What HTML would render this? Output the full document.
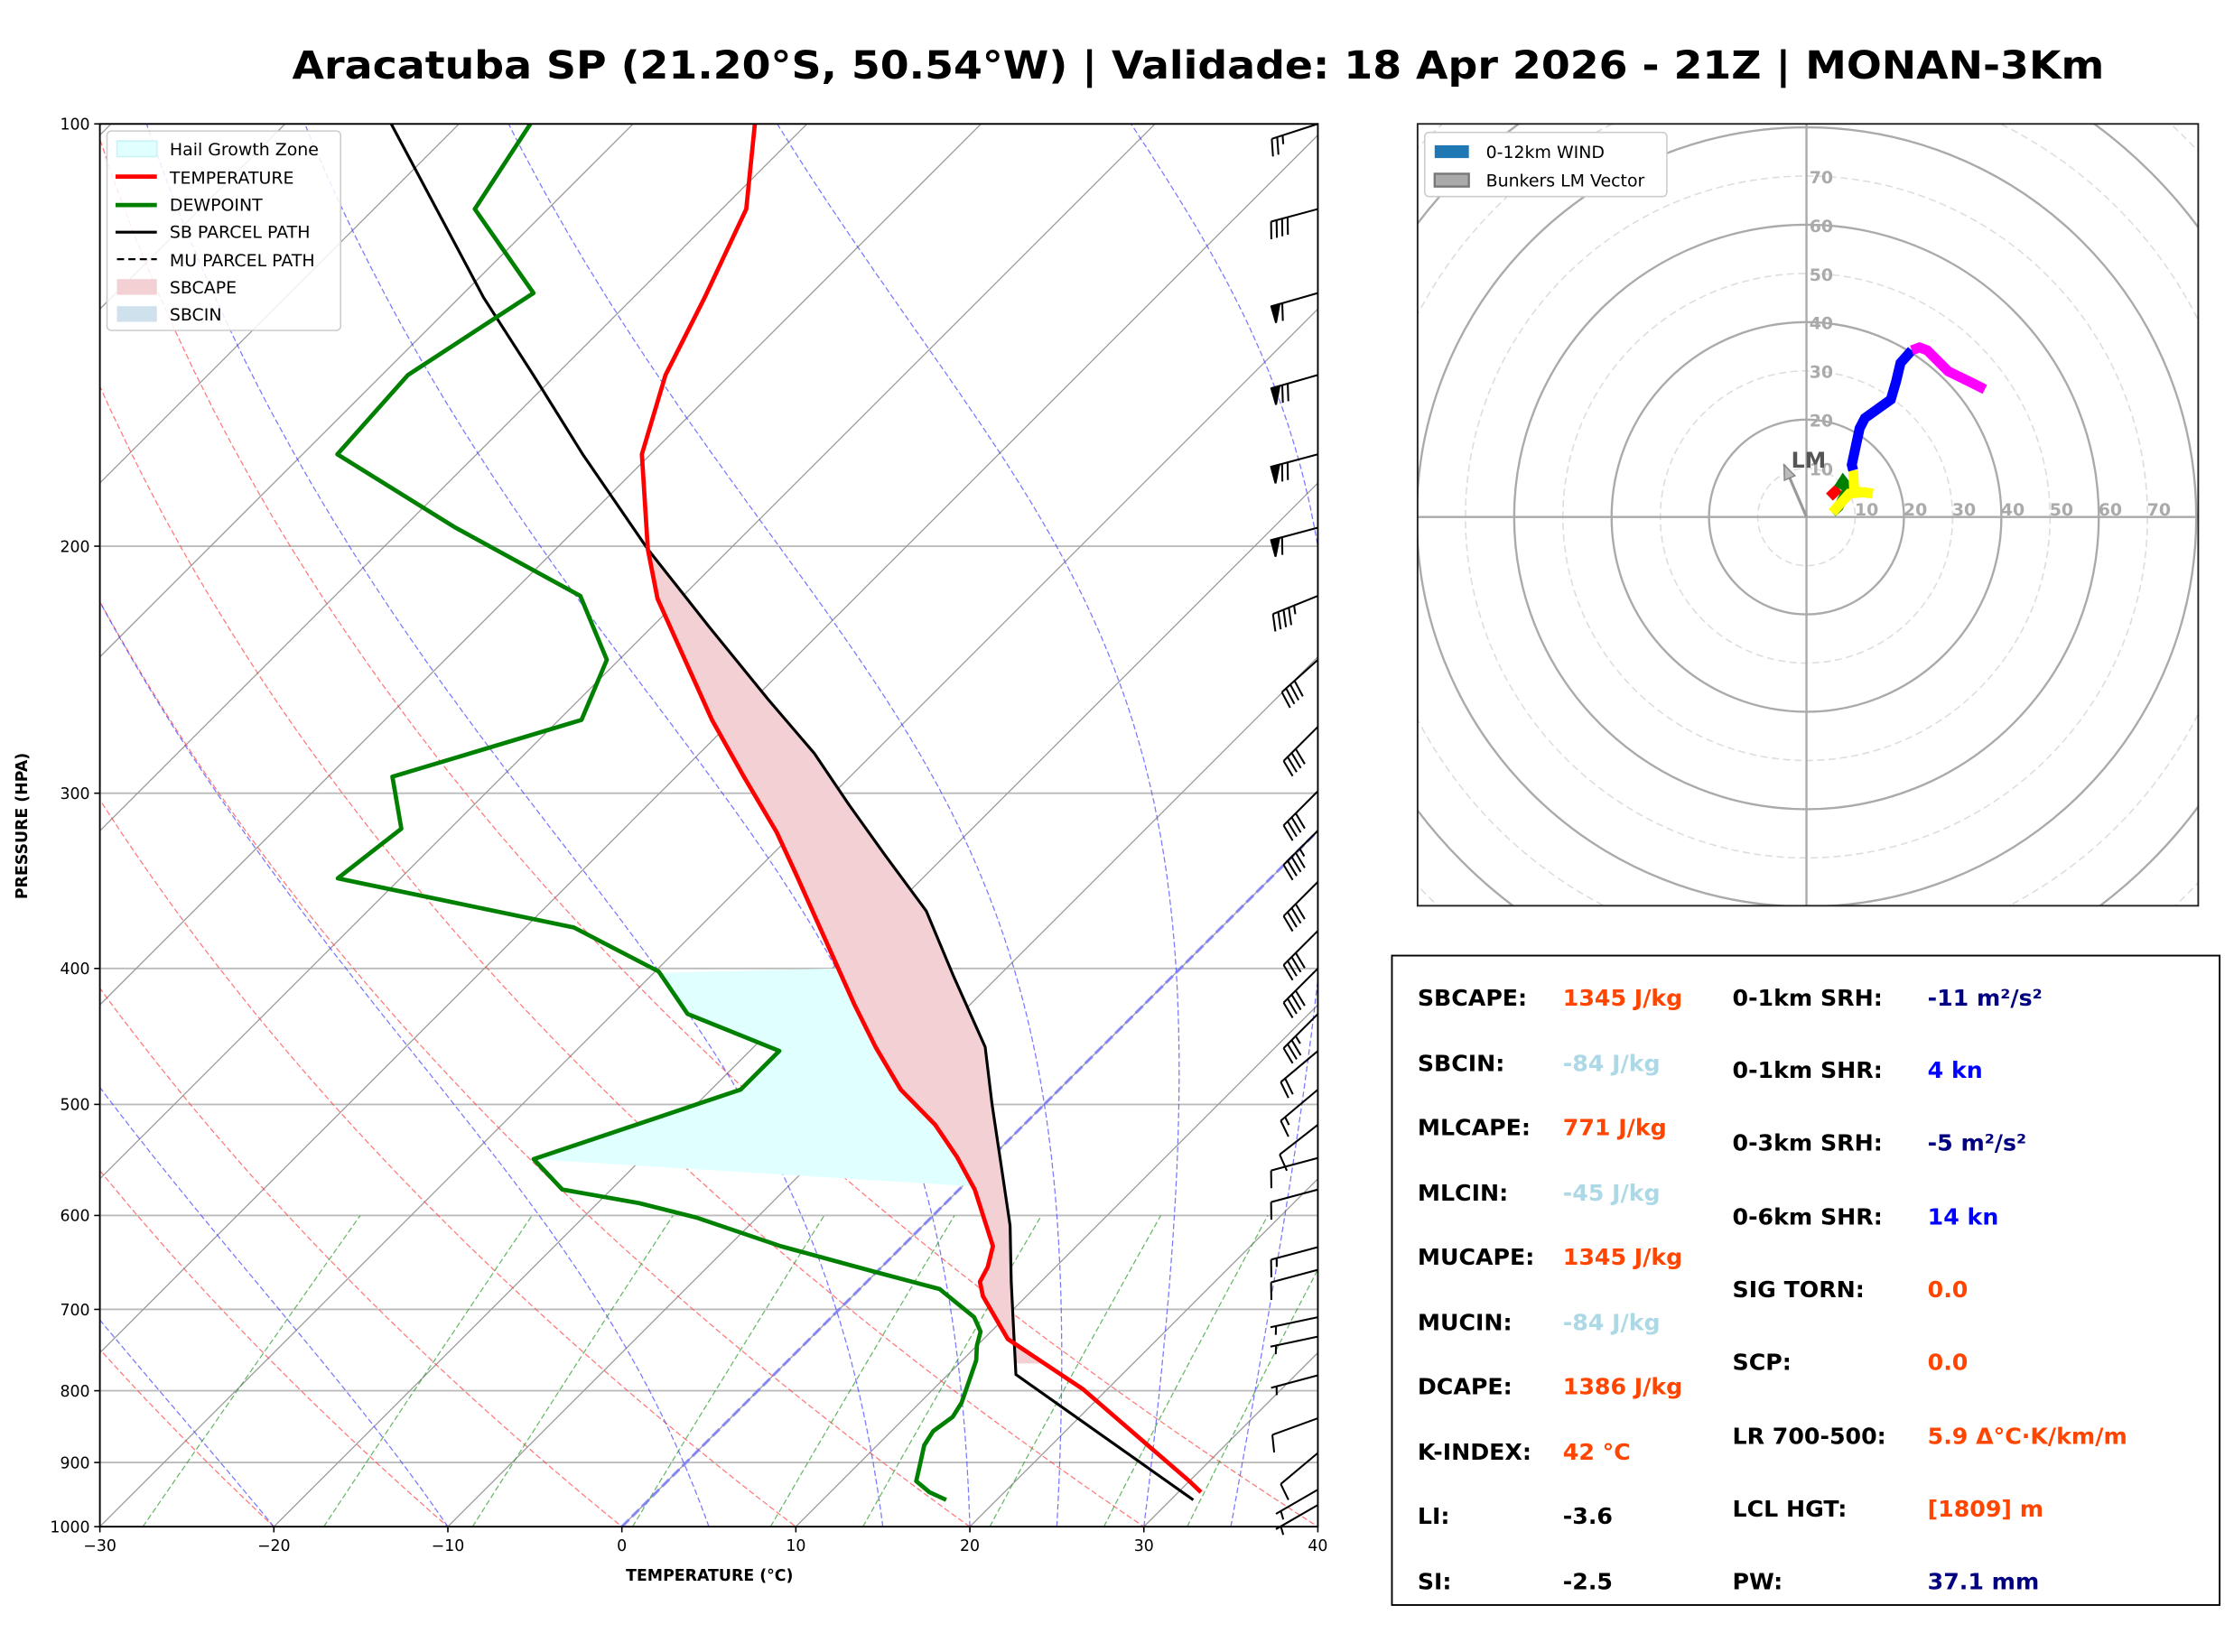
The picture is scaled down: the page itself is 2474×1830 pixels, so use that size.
<!DOCTYPE html>
<html><head><meta charset="utf-8"><style>
html,body{margin:0;padding:0;background:#fff;}
svg{display:block;font-family:"DejaVu Sans","Liberation Sans",sans-serif;}
</style></head><body>
<svg id="fig" width="2474" height="1830" viewBox="0 0 1568 1160" xmlns="http://www.w3.org/2000/svg">
<defs>
<clipPath id="skclip"><rect x="70" y="87" width="855" height="985"/></clipPath>
<clipPath id="hclip"><rect x="995" y="87" width="548" height="549"/></clipPath>
</defs>
<rect width="1568" height="1160" fill="#fff"/>
<text x="841" y="55" text-anchor="middle" font-size="27" font-weight="bold" textLength="1272" lengthAdjust="spacingAndGlyphs">Aracatuba SP (21.20°S, 50.54°W) | Validade: 18 Apr 2026 - 21Z | MONAN-3Km</text>
<g id="skew">
<g id="bg" clip-path="url(#skclip)"></g>
<g id="fills" clip-path="url(#skclip)"></g>
<g id="prof" clip-path="url(#skclip)"></g>
<rect x="70" y="87" width="855" height="985" fill="none" stroke="#000" stroke-width="1.2"/>
<g id="ticks"></g>
<g id="barbs"></g>
<text transform="translate(19,580) rotate(-90)" text-anchor="middle" font-size="11" font-weight="bold">PRESSURE (HPA)</text>
<text x="498" y="1110" text-anchor="middle" font-size="11" font-weight="bold">TEMPERATURE (°C)</text>
<g>
<rect x="75" y="92" width="164" height="140" rx="3" fill="#fff" fill-opacity="0.85" stroke="#ccc"/>
<rect x="82" y="99" width="28" height="11" fill="#e0ffff" stroke="#c8f4f4"/><text x="119" y="109" font-size="12">Hail Growth Zone</text>
<line x1="81" y1="124" x2="110" y2="124" stroke="red" stroke-width="3"/><text x="119" y="129" font-size="12">TEMPERATURE</text>
<line x1="81" y1="144" x2="110" y2="144" stroke="green" stroke-width="3"/><text x="119" y="148" font-size="12">DEWPOINT</text>
<line x1="81" y1="163" x2="110" y2="163" stroke="#000" stroke-width="2"/><text x="119" y="167" font-size="12">SB PARCEL PATH</text>
<line x1="82" y1="182" x2="110" y2="182" stroke="#000" stroke-width="1.5" stroke-dasharray="5,3"/><text x="119" y="187" font-size="12">MU PARCEL PATH</text>
<rect x="82" y="196" width="28" height="11" fill="#f2d0d3"/><text x="119" y="206" font-size="12">SBCAPE</text>
<rect x="82" y="215" width="28" height="11" fill="#d0e1ee"/><text x="119" y="225" font-size="12">SBCIN</text>
</g>
</g>
<g id="hodo">
<g id="hbg" clip-path="url(#hclip)"></g>
<g id="hlines" clip-path="url(#hclip)"></g>
<rect x="995" y="87" width="548" height="549" fill="none" stroke="#222" stroke-width="1.2"/>
<g>
<rect x="1000" y="93" width="170" height="45" rx="3" fill="#fff" stroke="#ccc"/>
<rect x="1007" y="102" width="24" height="9" fill="#1f77b4"/><text x="1043" y="111" font-size="12">0-12km WIND</text>
<rect x="1007" y="122" width="24" height="9" fill="#aaa" stroke="#777" stroke-width="1.5"/><text x="1043" y="131" font-size="12">Bunkers LM Vector</text>
</g>
</g>
<g font-size="16" font-weight="bold">
<rect x="977" y="671" width="581" height="456" fill="#fff" stroke="#000" stroke-width="1.2"/>
<g id="stats"></g>
</g>
</svg>
<script>
// ===== data =====
const tempP=[945,928,798,735,685,669,653,631,575,545,517,488,455,424,373,344,320,292,266,242,218,201,172,151,133,115,100];
const tempT=[31.3,30.0,18.6,11.4,7.5,6.5,6.1,5.2,0.9,-2.0,-5.1,-9.1,-13.0,-16.7,-23.2,-27.3,-31.0,-36.1,-41.2,-46.0,-51.3,-54.7,-60.5,-63.7,-65.9,-68.6,-73.0];
const dewP=[957,945,928,901,875,855,835,816,788,761,743,726,709,677,657,631,602,588,575,547,488,458,431,402,374,345,318,292,266,241,217,194,172,151,132,115,100];
const dewT=[17.1,15.7,14.3,13.5,12.7,12.4,12.7,12.4,11.6,10.8,10.0,9.4,8.2,4.6,-0.4,-7.0,-13.5,-17.6,-22.8,-26.2,-18.3,-18.3,-25.7,-29.8,-37.2,-53.6,-52.8,-56.3,-48.7,-50.7,-55.9,-67.0,-78.0,-78.5,-76.0,-84.2,-85.9];
const parcelP=[957,779,720,669,610,555,500,455,405,364,332,306,281,257,228,201,172,151,133,115,100];
const parcelT=[31.3,13.9,11.0,8.3,5.0,1.2,-3.0,-6.7,-12.6,-17.9,-23.5,-28.4,-33.4,-39.2,-46.8,-54.7,-63.9,-71.3,-78.6,-86.4,-93.9];
const barbP=[100,115,132,151,172,194,217,241,269,299,319,347,376,400,431,458,488,517,546,575,632,656,709,732,780,837,886,941,965];
const barbDir=[252,255,254,254,255,255,248,228,225,225,225,225,225,225,225,230,230,232,255,255,255,255,258,258,255,250,230,240,240];
const barbSpd=[25,40,60,70,70,60,45,40,40,40,45,40,40,40,35,20,15,10,10,10,15,10,5,5,5,10,10,5,5];
const xTicks=[-30,-20,-10,0,10,20,30,40];
const yTicks=[100,200,300,400,500,600,700,800,900,1000];
const hodoRed=[[4.7,4.1],[6.6,5.9]];
const hodoGreen=[[6.6,5.9],[7.5,7.3],[8.6,5.9],[6.6,2.1],[5.3,0.9]];
const hodoYellow=[[5.3,0.9],[8.8,4.8],[12,5.1],[13.6,4.8],[9.8,5.3],[9.6,9.6]];
const hodoBlue=[[9.6,9.6],[9.3,10.7],[10.9,18.2],[12,20.3],[17.3,24.1],[18.4,27.8],[19.3,31.6],[21.6,34.2]];
const hodoMagenta=[[21.6,34.2],[23.2,34.8],[24.8,34.2],[29.1,29.9],[33.4,27.8],[36.6,26.2]];
const bunkersLM=[-4.6,10.7];
const statLeftLabels=["SBCAPE:","SBCIN:","MLCAPE:","MLCIN:","MUCAPE:","MUCIN:","DCAPE:","K-INDEX:","LI:","SI:"];
const statLeftValues=["1345 J/kg","-84 J/kg","771 J/kg","-45 J/kg","1345 J/kg","-84 J/kg","1386 J/kg","42 °C","-3.6","-2.5"];
const statLeftColors=["#ff4500","#add8e6","#ff4500","#add8e6","#ff4500","#add8e6","#ff4500","#ff4500","#000","#000"];
const statRightLabels=["0-1km SRH:","0-1km SHR:","0-3km SRH:","0-6km SHR:","SIG TORN:","SCP:","LR 700-500:","LCL HGT:","PW:"];
const statRightValues=["-11 m²/s²","4 kn","-5 m²/s²","14 kn","0.0","0.0","5.9 Δ°C·K/km/m","[1809] m","37.1 mm"];
const statRightColors=["#000080","#0000ff","#000080","#0000ff","#ff4500","#ff4500","#ff4500","#ff4500","#000080"];

// ===== helpers =====
const NS="http://www.w3.org/2000/svg";
function mk(parent,tag,attrs){const e=document.createElementNS(NS,tag);for(const k in attrs)e.setAttribute(k,attrs[k]);parent.appendChild(e);return e;}
function Y(p){return 87+985*Math.log10(p/100);}
function X(T,p){return 70+(T+30)*(855/70)+(1072-Y(p));}
function pts(Ps,Ts){return Ps.map((p,i)=>X(Ts[i],p).toFixed(2)+","+Y(p).toFixed(2)).join(" ");}
function interp(Ps,Ts,p){
  for(let i=0;i<Ps.length-1;i++){const a=Ps[i],b=Ps[i+1];
    if(p<=a&&p>=b){const f=(Math.log(p)-Math.log(a))/(Math.log(b)-Math.log(a));return Ts[i]+f*(Ts[i+1]-Ts[i]);}}
  return p>Ps[0]?Ts[0]:Ts[Ts.length-1];}

// ===== background lines =====
const bg=document.getElementById('bg');
for(const p of yTicks){
  const g=mk(bg,'line',{x1:70,x2:925,y1:Y(p),y2:Y(p),stroke:'#bbb','stroke-width':1.2});
  
  
}
for(let T=-150;T<=40;T+=10){
  const l=mk(bg,'line',{x1:X(T,1050),y1:Y(1050),x2:X(T,90),y2:Y(90),stroke:'#999','stroke-width':0.8});
  
  
}
for(let t0=-100;t0<=40;t0+=10){
  const th=t0+273.15;let a=[];
  for(let p=1050;p>=95;p-=10){const T=th*Math.pow(p/1000,0.2857)-273.15;a.push(X(T,p).toFixed(1)+","+Y(p).toFixed(1));}
  const l=mk(bg,'polyline',{points:a.join(" "),fill:'none',stroke:'#ff4040','stroke-width':0.8,'stroke-dasharray':'4,2',opacity:0.7});
  
  
}
function es(T){return 6.112*Math.exp(17.67*T/(T+243.5));}
for(const t0 of [-20,-10,5,15,20,25,30,35]){
  let T=t0+273.15,a=[];
  for(let p=1000;p>=95;p-=2){
    a.push(X(T-273.15,p).toFixed(1)+","+Y(p).toFixed(1));
    const e=es(T-273.15),rs=0.622*e/(p-e),Lv=2.501e6,Rd=287,cp=1005;
    const dTdp=(1/p)*(Rd*T+Lv*rs)/(cp+Lv*Lv*rs*0.622/(Rd*T*T));
    T-=2*dTdp;
  }
  const l=mk(bg,'polyline',{points:a.join(" "),fill:'none',stroke:'#4040ff','stroke-width':0.8,'stroke-dasharray':'4,2',opacity:0.7});
  
  
}
for(const w of [0.0004,0.001,0.002,0.004,0.007,0.01,0.016,0.024,0.032]){
  let a=[];
  for(let p=1000;p>=600;p-=10){const e=w*p/(0.622+w),l=Math.log(e/6.112),Td=243.5*l/(17.67-l);a.push(X(Td,p).toFixed(1)+","+Y(p).toFixed(1));}
  const l=mk(bg,'polyline',{points:a.join(" "),fill:'none',stroke:'#2a9a2a','stroke-width':0.8,'stroke-dasharray':'4,2',opacity:0.7});
  
  
}
const zi=mk(bg,'line',{x1:X(0,1000),y1:Y(1000),x2:X(0,90),y2:Y(90),stroke:'#7a7aff','stroke-width':2,'stroke-dasharray':'7,3',opacity:0.8});



// ===== fills =====
const fills=document.getElementById('fills');
{
  let a=[];
  for(let p=400;p<=572;p+=4)a.push([X(interp(tempP,tempT,p),p),Y(p)]);
  for(let p=547;p>=400;p-=4)a.push([X(interp(dewP,dewT,p),p),Y(p)]);
  const h=mk(fills,'polygon',{points:a.map(q=>q.join(",")).join(" "),fill:'#e0ffff'});
  
  
}
{
  let a=[],b=[];
  for(let p=201;p<=765;p+=3){a.push([X(interp(parcelP,parcelT,p),p),Y(p)]);b.push([X(interp(tempP,tempT,p),p),Y(p)]);}
  const all=a.concat(b.reverse());
  const c=mk(fills,'polygon',{points:all.map(q=>q[0].toFixed(1)+","+q[1].toFixed(1)).join(" "),fill:'#f2d0d3'});
  
  
}
// ===== profiles =====
const prof=document.getElementById('prof');
const pp=mk(prof,'polyline',{points:pts(parcelP,parcelT),fill:'none',stroke:'#000','stroke-width':2});


const tl=mk(prof,'polyline',{points:pts(tempP,tempT),fill:'none',stroke:'red','stroke-width':3,'stroke-linejoin':'round'});


const dl=mk(prof,'polyline',{points:pts(dewP,dewT),fill:'none',stroke:'green','stroke-width':3,'stroke-linejoin':'round'});



// ===== ticks =====
const tk=document.getElementById('ticks');
for(const t of xTicks){
  const x=70+(t+30)*(855/70);
  mk(tk,'line',{x1:x,x2:x,y1:1072,y2:1076,stroke:'#000'});
  const tx=mk(tk,'text',{x:x,y:1089,'text-anchor':'middle','font-size':11});
  tx.textContent=(t<0?'\u2212'+(-t):String(t));
  
  
}
for(const p of yTicks){
  mk(tk,'line',{x1:66,x2:70,y1:Y(p),y2:Y(p),stroke:'#000'});
  const tx=mk(tk,'text',{x:63,y:Y(p)+4,'text-anchor':'end','font-size':11});
  tx.textContent=String(p);
  
  
}
// ===== barbs =====
const bb=document.getElementById('barbs');
barbP.forEach((p,i)=>{
  const d=barbDir[i]*Math.PI/180,sx=Math.sin(d),sy=-Math.cos(d);
  const fx=sy,fy=-sx,L=34,F=12;
  const ax=925,ay=Y(p),ex=ax+sx*L,ey=ay+sy*L;
  const g=mk(bb,'g',{stroke:'#000','stroke-width':1.3,fill:'#000'});
  
  
  mk(g,'line',{x1:ax,y1:ay,x2:ex,y2:ey});
  let s=barbSpd[i],pos=0;
  const at=k=>[ex-sx*k,ey-sy*k];
  while(s>=50){const a=at(pos),b=at(pos+6);mk(g,'polygon',{points:a[0]+","+a[1]+" "+(a[0]+fx*F)+","+(a[1]+fy*F)+" "+b[0]+","+b[1]});pos+=8;s-=50;}
  while(s>=10){const a=at(pos);mk(g,'line',{x1:a[0],y1:a[1],x2:a[0]+fx*F+sx*3,y2:a[1]+fy*F+sy*3});pos+=4;s-=10;}
  if(s>=5){if(pos===0)pos=4;const a=at(pos);mk(g,'line',{x1:a[0],y1:a[1],x2:a[0]+fx*F/2+sx*1.5,y2:a[1]+fy*F/2+sy*1.5});}
});

// ===== hodograph =====
const HC=[1268,363],HS=3.42;
const hb=document.getElementById('hbg');
for(let r=10;r<=110;r+=10){
  const solid=(r%20===0);
  const c=mk(hb,'circle',{cx:HC[0],cy:HC[1],r:r*HS,fill:'none',stroke:solid?'#aaa':'#ddd','stroke-width':solid?1.5:1});
  if(!solid)c.setAttribute('stroke-dasharray','5,3');
  
  
}
mk(hb,'line',{x1:995,x2:1543,y1:HC[1],y2:HC[1],stroke:'#aaa','stroke-width':1.5});
mk(hb,'line',{x1:HC[0],x2:HC[0],y1:87,y2:636,stroke:'#aaa','stroke-width':1.5});
for(let r=10;r<=70;r+=10){
  const a=mk(hb,'text',{x:HC[0]+r*HS+8,y:HC[1]-1,'text-anchor':'middle','font-size':12,'font-weight':'bold',fill:'#aaa'});a.textContent=r;
  
  
  const b=mk(hb,'text',{x:HC[0]+2,y:HC[1]-r*HS+5,'font-size':12,'font-weight':'bold',fill:'#aaa'});b.textContent=r;
  
  
}
const hl=document.getElementById('hlines');
[[hodoRed,'red'],[hodoGreen,'green'],[hodoYellow,'yellow'],[hodoBlue,'blue'],[hodoMagenta,'magenta']].forEach(([arr,col])=>{
  const l=mk(hl,'polyline',{points:arr.map(q=>(HC[0]+q[0]*HS).toFixed(1)+","+(HC[1]-q[1]*HS).toFixed(1)).join(" "),fill:'none',stroke:col,'stroke-width':7,'stroke-linejoin':'miter'});
  
  
});
{
  const tx=HC[0]+bunkersLM[0]*HS,ty=HC[1]-bunkersLM[1]*HS;
  const ar=mk(hl,'line',{x1:HC[0],y1:HC[1],x2:tx,y2:ty,stroke:'#999','stroke-width':2});
  
  
  const ang=Math.atan2(ty-HC[1],tx-HC[0]);
  const bx=tx-Math.cos(ang)*10,by=ty-Math.sin(ang)*10;
  mk(hl,'polygon',{points:tx+","+ty+" "+(bx+Math.sin(ang)*4)+","+(by-Math.cos(ang)*4)+" "+(bx-Math.sin(ang)*4)+","+(by+Math.cos(ang)*4),fill:'#bbb',stroke:'#888'});
  const lm=mk(hl,'text',{x:tx+5,y:ty+2,'font-size':15,'font-weight':'bold',fill:'#555'});lm.textContent='LM';
  
  
}
// ===== stats =====
const st=document.getElementById('stats');
const leftY=[700,746,791,837,882,928,973,1019,1064,1110];
const rightY=[700,751,802,854,905,956,1008,1059,1110];
statLeftLabels.forEach((t,i)=>{
  const a=mk(st,'text',{x:995,y:leftY[i]+6});a.textContent=t;
  
  
  const b=mk(st,'text',{x:1097,y:leftY[i]+6,fill:statLeftColors[i]});b.textContent=statLeftValues[i];
  
  
});
statRightLabels.forEach((t,i)=>{
  const a=mk(st,'text',{x:1216,y:rightY[i]+6});a.textContent=t;
  
  
  const b=mk(st,'text',{x:1353,y:rightY[i]+6,fill:statRightColors[i]});b.textContent=statRightValues[i];
  
  
});
</script>
</body></html>
